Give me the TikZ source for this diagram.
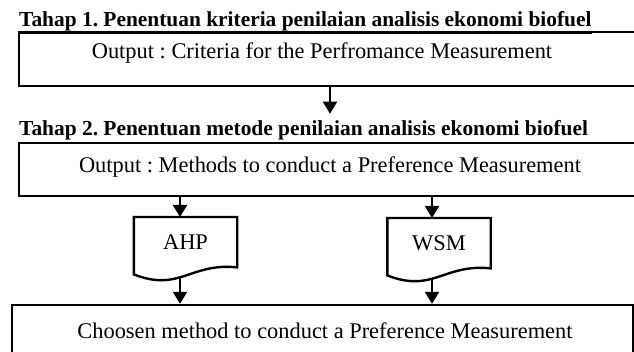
\documentclass[tikz,border=0pt]{standalone}
\usepackage{fontspec}
\setmainfont{Liberation Serif}
\usetikzlibrary{arrows.meta}

\begin{document}
\frenchspacing
\begin{tikzpicture}[x=1pt,y=-1pt,
  boxline/.style={draw=black, line width=2.4pt, rectangle, inner sep=0pt},
  docline/.style={draw=black, line width=2.4pt, line join=miter},
  doclabel/.style={inner sep=0pt, minimum width=103pt, minimum height=50pt,
    font=\fontsize{22.4}{26}\selectfont},
  boxtext/.style={inner sep=0pt, anchor=base, font=\fontsize{22.4}{26}\selectfont},
  stagetitle/.style={inner sep=0pt, anchor=base west,
    font=\fontsize{21.4}{25}\selectfont\bfseries},
  arr/.style={draw=black, line width=1.9pt,
    -{Triangle[length=12pt,width=14pt]}}
]
\useasboundingbox (0,0) rectangle (634,352);

% stage 1
\node[stagetitle] (t1) at (19,27)
  {\underline{Tahap 1. Penentuan kriteria penilaian analisis ekonomi biofuel}};
\node[boxline, minimum width=621pt, minimum height=54pt] (box1) at (329.5,59) {};
\node[boxtext] (box1text) at (322,59) {Output : Criteria for the Perfromance Measurement};

% stage 2
\node[stagetitle] (t2) at (19,136)
  {\underline{Tahap 2. Penentuan metode penilaian analisis ekonomi biofuel}};
\node[boxline, minimum width=621pt, minimum height=53pt] (box2) at (329.5,169.5) {};
\node[boxtext] (box2text) at (330,173) {Output : Methods to conduct a Preference Measurement};

% candidate methods (document shapes)
\node[doclabel, anchor=north] (ahp) at (185.5,217) {AHP};
\node[doclabel, anchor=north] (wsm) at (439,218) {WSM};
\foreach \d in {ahp,wsm}{
  \draw[docline] ([yshift=-7pt]\d.south west) -- (\d.north west) -- (\d.north east)
    -- (\d.south east) .. controls +(-47,-5) and +(46,18) .. ([yshift=-7pt]\d.south west) -- cycle;
}

% chosen method
\node[boxline, minimum width=621pt, minimum height=55pt] (box3) at (322.5,332.5) {};
\node[boxtext] (box3text) at (325,338) {Choosen method to conduct a Preference Measurement};

% connectors
\coordinate (c1) at (330,0);
\coordinate (ca) at (180,0);
\coordinate (cw) at (432,0);
\draw[arr] (c1 |- box1.south) -- ([yshift=7pt]c1 |- t2.north);
\draw[arr] (ca |- box2.south) -- (ca |- ahp.north);
\draw[arr] (cw |- box2.south) -- (cw |- wsm.north);
\draw[arr] ([yshift=-9pt]ca |- ahp.south) -- (ca |- box3.north);
\draw[arr] ([yshift=-10pt]cw |- wsm.south) -- (cw |- box3.north);
\end{tikzpicture}
\end{document}
